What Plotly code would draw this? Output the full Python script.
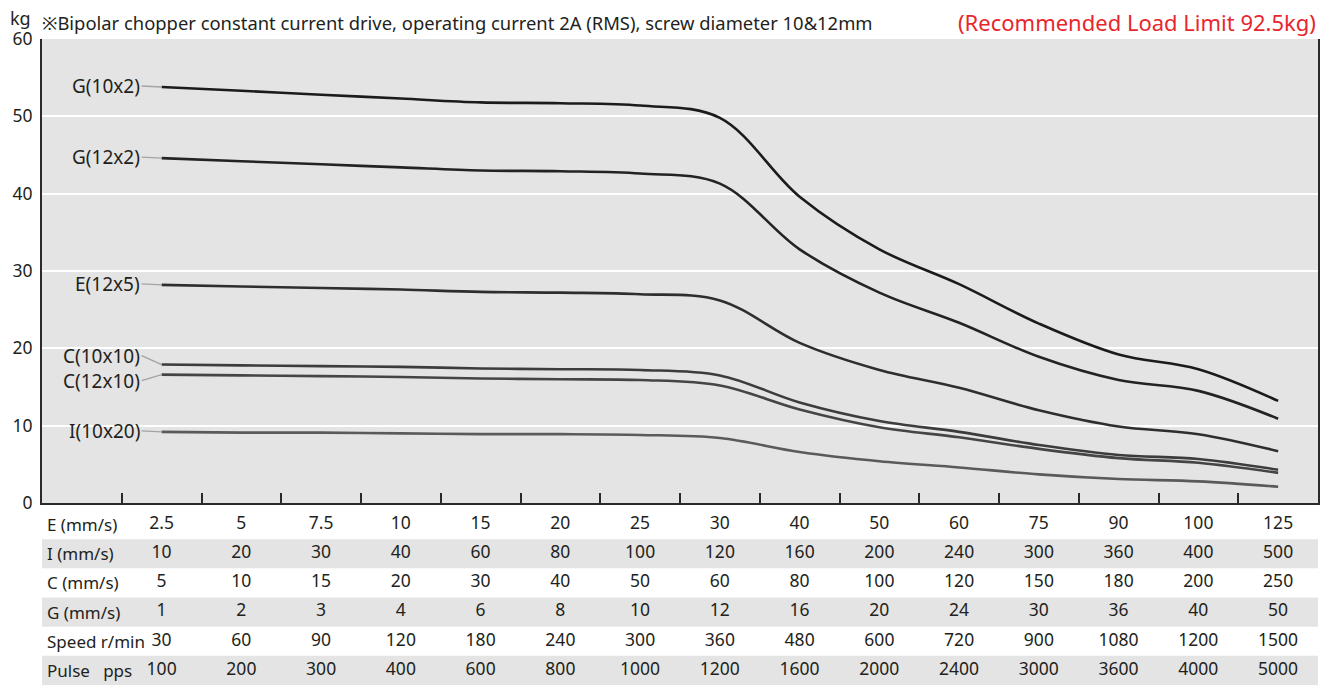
import plotly.graph_objects as go

# speed table (one list per row)
row_labels = ["E (mm/s)", "I (mm/s)", "C (mm/s)", "G (mm/s)",
              "Speed r/min", "Pulse\u00a0\u00a0\u00a0pps"]
e_speed = ["2.5", "5", "7.5", "10", "15", "20", "25", "30", "40", "50", "60", "75", "90", "100", "125"]
i_speed = ["10", "20", "30", "40", "60", "80", "100", "120", "160", "200", "240", "300", "360", "400", "500"]
c_speed = ["5", "10", "15", "20", "30", "40", "50", "60", "80", "100", "120", "150", "180", "200", "250"]
g_speed = ["1", "2", "3", "4", "6", "8", "10", "12", "16", "20", "24", "30", "36", "40", "50"]
rpm = ["30", "60", "90", "120", "180", "240", "300", "360", "480", "600", "720", "900", "1080", "1200", "1500"]
pulse = ["100", "200", "300", "400", "600", "800", "1000", "1200", "1600", "2000", "2400", "3000", "3600", "4000", "5000"]

# load (kg) per lead type
g_10x2 = [53.8, 53.3, 52.8, 52.3, 51.8, 51.7, 51.4, 49.8, 39.6, 32.8, 28.3, 23.2, 19.2, 17.3, 13.2]
g_12x2 = [44.6, 44.2, 43.8, 43.4, 43.0, 42.9, 42.6, 41.3, 32.8, 27.2, 23.3, 18.9, 15.9, 14.5, 10.9]
e_12x5 = [28.2, 28.0, 27.8, 27.6, 27.3, 27.2, 27.0, 26.2, 20.7, 17.2, 14.9, 12.0, 9.9, 8.9, 6.7]
c_10x10 = [17.9, 17.8, 17.7, 17.6, 17.4, 17.3, 17.2, 16.5, 13.0, 10.6, 9.2, 7.5, 6.2, 5.7, 4.3]
c_12x10 = [16.6, 16.5, 16.4, 16.3, 16.1, 16.0, 15.9, 15.2, 12.1, 9.8, 8.5, 7.0, 5.8, 5.2, 3.9]
i_10x20 = [9.2, 9.1, 9.1, 9.0, 8.9, 8.9, 8.8, 8.4, 6.6, 5.4, 4.6, 3.7, 3.1, 2.8, 2.1]

FONT = "Noto Sans"
TXT = "#231f20"
BG = "#e3e4e3"

idx = list(range(len(e_speed)))

fig = go.Figure()

# series: (name, values, colour, label offset in px)
series = [
    ("G(10x2)", g_10x2, "#1b1b1b", -1),
    ("G(12x2)", g_12x2, "#232323", -1),
    ("E(12x5)", e_12x5, "#2e2e2e", -1),
    ("C(10x10)", c_10x10, "#3c3c3c", -9),
    ("C(12x10)", c_12x10, "#454545", 6),
    ("I(10x20)", i_10x20, "#5a5a5a", -1),
]

for name, vals, col, dy in series:
    fig.add_trace(go.Scatter(
        x=idx, y=vals, mode="lines", name=name,
        line=dict(color=col, width=2.6, shape="spline", smoothing=1),
        hoverinfo="skip", showlegend=False
    ))
    fig.add_annotation(
        x=0, y=vals[0], xref="x", yref="y",
        text=name, showarrow=True, arrowhead=0, arrowwidth=1.4,
        arrowcolor="#a3a3a3", ax=-20, ay=dy, xanchor="right",
        yanchor="middle", font=dict(family=FONT, size=19, color=TXT)
    )

# table below the chart
table_rows = [e_speed, i_speed, c_speed, g_speed, rpm, pulse]
tx, ty, tt = [], [], []
for r, vals in enumerate(table_rows):
    for i, v in enumerate(vals):
        tx.append(i)
        ty.append(r + 0.5)
        tt.append(v)
fig.add_trace(go.Scatter(
    x=tx, y=ty, text=tt, mode="text", yaxis="y2",
    textfont=dict(family=FONT, size=17.5, color=TXT),
    hoverinfo="skip", showlegend=False, cliponaxis=False
))
for r, lab in enumerate(row_labels):
    fig.add_annotation(
        x=0, xref="x domain", y=r + 0.5, yref="y2", text=lab,
        showarrow=False, xanchor="left", yanchor="middle", xshift=3,
        font=dict(family=FONT, size=17, color=TXT)
    )
    if r % 2 == 1:
        fig.add_shape(type="rect", xref="x domain", yref="y2",
                      x0=0, x1=1, y0=r, y1=r + 1, layer="below",
                      fillcolor=BG, line_width=0)

# grey chart background
fig.add_shape(type="rect", xref="x domain", yref="y domain",
              x0=0, x1=1, y0=0, y1=1, layer="below",
              fillcolor=BG, line_width=0)

# texts above the chart
fig.add_annotation(x=0, y=1, xref="paper", yref="paper", text="kg",
                   showarrow=False, xanchor="right", yanchor="middle",
                   xshift=-9, yshift=21,
                   font=dict(family=FONT, size=18, color=TXT))
fig.add_annotation(x=0, y=1, xref="paper", yref="paper",
                   text="\u203bBipolar chopper constant current drive, operating current 2A (RMS), screw diameter 10&12mm",
                   showarrow=False, xanchor="left", yanchor="middle",
                   xshift=-2, yshift=17,
                   font=dict(family=FONT, size=18.4, color=TXT))
fig.add_annotation(x=1, y=1, xref="paper", yref="paper",
                   text="(Recommended Load Limit 92.5kg)",
                   showarrow=False, xanchor="right", yanchor="middle",
                   yshift=17,
                   font=dict(family=FONT, size=22, color="#e8262d"))

# the page body adds an 8px offset, so the figure is 8px smaller
fig.update_layout(
    width=1327, height=677,
    margin=dict(l=34, r=17, t=31, b=0),
    paper_bgcolor="white", plot_bgcolor="white",
    font=dict(family=FONT, color=TXT),
    xaxis=dict(
        range=[-1.5, 14.5], showgrid=False, zeroline=False,
        tickmode="array", tickvals=[i - 0.5 for i in idx],
        ticks="inside", ticklen=10, tickwidth=2, tickcolor="#2a2a2a",
        showticklabels=False, showline=True, linecolor="#2a2a2a",
        linewidth=2, anchor="y", automargin=False
    ),
    yaxis=dict(
        domain=[182 / 646, 1], range=[0, 60],
        tickmode="array", tickvals=[0, 10, 20, 30, 40, 50, 60],
        showgrid=True, gridcolor="white", gridwidth=1.5, zeroline=False,
        showline=True, linecolor="#2a2a2a", linewidth=2, mirror=True,
        ticks="", ticklabelstandoff=4, automargin=False,
        tickfont=dict(family=FONT, size=17.5, color=TXT)
    ),
    yaxis2=dict(
        domain=[0, 175 / 646], range=[6, 0], visible=False,
        anchor="x", automargin=False
    ),
)

fig.write_html("out.html")
